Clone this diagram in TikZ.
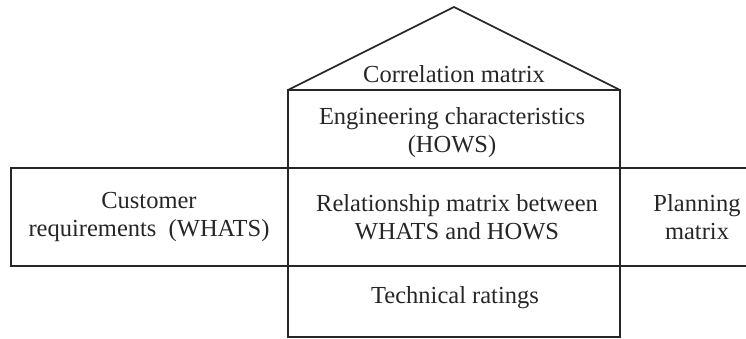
\documentclass[tikz,border=0pt]{standalone}
\usepackage{fontspec}
\setmainfont{Liberation Serif}
\begin{document}
\begin{tikzpicture}[x=1pt,y=-1pt,
  frame/.style={line width=1.6pt,draw=black!85},
  label/.style={align=center,inner sep=0pt,text=black!85,font=\fontsize{24.5}{28}\selectfont}]
\useasboundingbox (0,0) rectangle (746,339);
% roof: correlation matrix
\draw[frame,line join=miter] (288,90) -- (454,7) -- (620,90);
% central column
\draw[frame] (288,90) rectangle (620,337);
\draw[frame] (288,168) -- (620,168);
\draw[frame] (288,266) -- (620,266);
% left wing: customer requirements
\draw[frame] (288,168) -- (11,168) -- (11,266) -- (288,266);
% right wing: planning matrix, running off the right edge
\draw[frame] (620,168) -- (748,168);
\draw[frame] (620,266) -- (748,266);
% labels
\node[label] (corr) at (454,74) {Correlation matrix};
\node[label] (eng) at (452,133) {Engineering characteristics\\(HOWS)};
\node[label] (rel) at (457,217) {Relationship matrix between\\WHATS and HOWS};
\node[label] (cust) at (149,217) {Customer\\requirements\ \ (WHATS)};
\node[label] (plan) at (697,217) {Planning\\matrix};
\node[label] (tech) at (455,298) {Technical ratings};
\end{tikzpicture}
\end{document}
